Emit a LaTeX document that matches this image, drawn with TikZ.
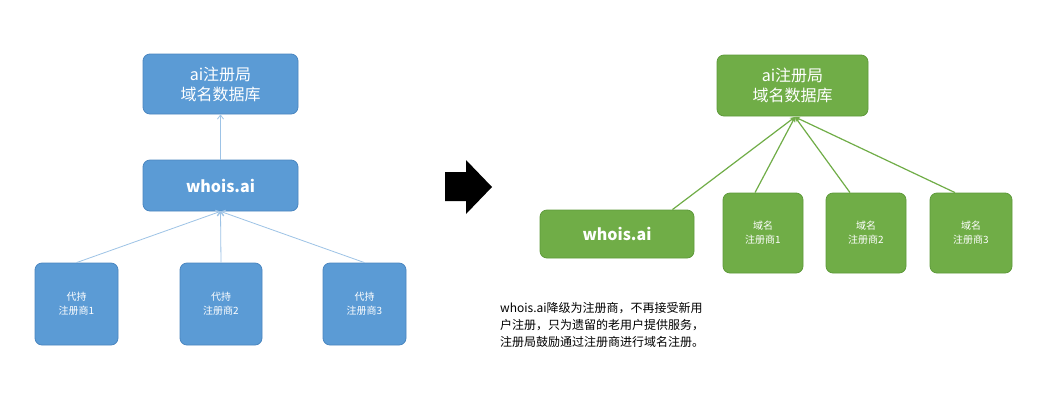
\documentclass[tikz,border=0pt]{standalone}
\usepackage{fontspec}
\setmainfont{Noto Sans CJK SC}
\usetikzlibrary{arrows.meta}
\definecolor{bfill}{HTML}{5B9BD5}
\definecolor{bdraw}{HTML}{4A86C0}
\definecolor{bline}{HTML}{9DC3E6}
\definecolor{gfill}{HTML}{70AD47}
\definecolor{gdraw}{HTML}{5E9A3A}
\tikzset{
 bbox/.style={draw=bdraw,fill=bfill,rounded corners=7pt,text=white,align=center,inner sep=0pt,line width=0.8pt},
 gbox/.style={draw=gdraw,fill=gfill,rounded corners=7pt,text=white,align=center,inner sep=0pt,line width=0.8pt},
 bcon/.style={draw=bline,line width=0.8pt,-{Straight Barb[length=4pt,width=6pt]}},
 gcon/.style={draw=gfill,line width=1.2pt,-{Stealth[length=5pt,width=5pt]}},
}
\begin{document}
\begin{tikzpicture}[x=1pt,y=-1pt]
\useasboundingbox (0,0) rectangle (1043,400);
\fill[white] (0,0) rectangle (1043,400);
% left
\node[bbox,minimum width=155pt,minimum height=60pt,font=\fontsize{16}{20}\selectfont] (top) at (220.5,84) {ai注册局\\域名数据库};
\node[bbox,minimum width=155pt,minimum height=51pt,font=\fontsize{16}{20}\selectfont\bfseries] (who) at (220.5,185.5) {whois.ai};
\node[bbox,minimum width=83pt,minimum height=82pt,font=\fontsize{10}{14}\selectfont] (r1) at (76.5,304) {代持\\注册商1};
\node[bbox,minimum width=82pt,minimum height=82pt,font=\fontsize{10}{14}\selectfont] (r2) at (221,304) {代持\\注册商2};
\node[bbox,minimum width=83pt,minimum height=82pt,font=\fontsize{10}{14}\selectfont] (r3) at (364.5,304) {代持\\注册商3};
\draw[bcon] (who.north) -- (top.south);
\draw[bcon] (r1.north) -- (who.south);
\draw[bcon] (r2.north) -- (who.south);
\draw[bcon] (r3.north) -- (who.south);
% block arrow
\fill[black] (445,172) -- (466,172) -- (466,160) -- (492,187) -- (466,214) -- (466,201) -- (445,201) -- cycle;
% right
\node[gbox,minimum width=151pt,minimum height=61pt,font=\fontsize{16}{20}\selectfont] (gtop) at (792.5,85.5) {ai注册局\\域名数据库};
\node[gbox,minimum width=154pt,minimum height=48pt,font=\fontsize{16}{20}\selectfont\bfseries] (gwho) at (617,234) {whois.ai};
\node[gbox,minimum width=80pt,minimum height=80pt,font=\fontsize{10}{14}\selectfont] (g1) at (763,233) {域名\\注册商1};
\node[gbox,minimum width=80pt,minimum height=80pt,font=\fontsize{10}{14}\selectfont] (g2) at (866,233) {域名\\注册商2};
\node[gbox,minimum width=82pt,minimum height=80pt,font=\fontsize{10}{14}\selectfont] (g3) at (971,233) {域名\\注册商3};
\coordinate (conv) at (795,117);
\draw[gcon] ([xshift=-22pt]gwho.north east) -- (conv);
\draw[gcon] ([xshift=-8pt]g1.north) -- (conv);
\draw[gcon] ([xshift=-16pt]g2.north) -- (conv);
\draw[gcon] ([xshift=-16pt]g3.north) -- (conv);
\node[anchor=north west,align=left,inner sep=0pt,font=\fontsize{12}{17}\selectfont] (cap) at (500,302) {whois.ai降级为注册商，不再接受新用\\户注册，只为遗留的老用户提供服务，\\注册局鼓励通过注册商进行域名注册。};
\end{tikzpicture}
\end{document}
